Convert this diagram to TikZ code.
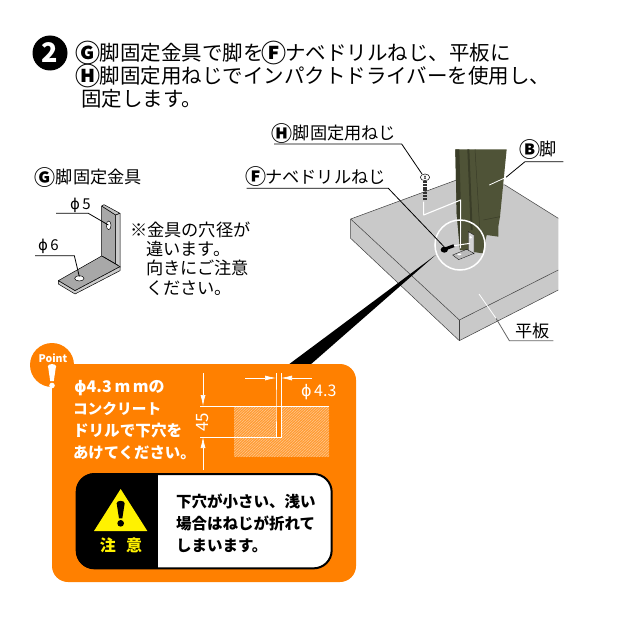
\documentclass[tikz,border=0pt]{standalone}
\usepackage{fontspec}
\setmainfont{Noto Sans CJK JP}
\newfontfamily\dv{DejaVu Sans}
\usetikzlibrary{arrows.meta}
\definecolor{orng}{HTML}{FF8000}
\definecolor{hatchbg}{HTML}{FF9A30}
\definecolor{slabc}{HTML}{C9C9C9}
\definecolor{legc}{HTML}{4F5337}
\definecolor{legd}{HTML}{3A3D28}
\definecolor{brk}{HTML}{A8A8A8}
\newcommand{\fs}[1]{\fontsize{#1}{#1}\selectfont}
\newcommand{\cir}[1]{\hspace{-0.1em}\smash{\raisebox{-0.09em}{\bfseries\scalebox{1.22}{#1}}}\hspace{-0.06em}}
\tikzset{
 txt/.style={anchor=west,inner sep=0pt,outer sep=0pt},
 head/.style={txt,font=\fs{20.5}},
 lab/.style={txt,font=\fs{17.2}},
 note/.style={txt,font=\fs{17.2}},
 small/.style={txt,font=\fs{15}},
 pt/.style={txt,text=white,font=\bfseries\fs{15}},
 warn/.style={txt,font=\bfseries\fs{15.5}},
 leader/.style={draw=black,line width=0.8pt},
 dim/.style={draw=white,line width=0.7pt},
 dimarrow/.style={draw=white,line width=0.7pt,-{Latex[length=11pt,width=5pt,fill=white]}},
 slabedge/.style={draw=black!75,line width=0.5pt,line join=round},
}
\begin{document}
\begin{tikzpicture}[x=1pt,y=-1pt]
\fill[white] (0,0) rectangle (618,618);
\useasboundingbox (0,0) rectangle (618,618);

% step number
\node[circle,fill=black,minimum size=35pt,inner sep=0pt,text=white,font=\bfseries\fs{27}] (num) at (50,53) {2};
\node[head] (h1) at (78,53) {\cir{Ⓖ}脚固定金具で脚を\cir{Ⓕ}ナベドリルねじ、平板に};
\node[head] (h2) at (78,76) {\cir{Ⓗ}脚固定用ねじでインパクトドライバーを使用し、};
\node[head] (h3) at (81,99) {固定します。};

% left bracket
\node[lab] (g) at (36,177) {\cir{Ⓖ}\hspace{0.1em}脚固定金具};
\begin{scope}[shift={(20,160)},scale=1/3]
 \fill[brk,draw=black,line width=0.5pt,line join=round] (245,138) -- (287,165) -- (287,312) -- (245,288) -- cycle;
 \fill[brk!70,draw=black,line width=0.5pt,line join=round] (245,138) -- (252,134) -- (300,160) -- (287,165) -- cycle;
 \fill[brk!60,draw=black,line width=0.5pt,line join=round] (287,165) -- (300,160) -- (300,322) -- (287,312) -- cycle;
 \fill[brk,draw=black,line width=0.5pt,line join=round] (115,362) -- (245,288) -- (300,320) -- (165,392) -- cycle;
 \fill[brk!60,draw=black,line width=0.5pt,line join=round] (115,362) -- (165,392) -- (300,320) -- (300,332) -- (165,402) -- (115,372) -- cycle;
 \draw[black,line width=0.3pt] (250,290) -- (295,316);
 \fill[white,draw=black,line width=0.5pt] (266,196) ellipse (7 and 13);
 \fill[white,draw=black,line width=0.5pt] (178,355) ellipse (14 and 8);
 \coordinate (p5a) at (108,160); \coordinate (p5b) at (205,160); \coordinate (p5c) at (265,195);
 \coordinate (p6a) at (45,287); \coordinate (p6b) at (163,287); \coordinate (p6c) at (178,350);
\end{scope}
\draw[leader] (p5a) -- (p5b) -- (p5c);
\draw[leader] (p6a) -- (p6b) -- (p6c);
\node[small] (d5) at (70,205) {{\dv ϕ}\,5};
\node[small] (d6) at (38,246) {{\dv ϕ}\,6};
\node[note] (n1) at (130,230) {※金具の穴径が};
\node[note] (n2) at (146,249) {違います。};
\node[note] (n3) at (146,268) {向きにご注意};
\node[note] (n4) at (146,288) {ください。};

% slab, leg
\begin{scope}[shift={(250,120)},scale=1/3]
 \fill[slabc] (302,297) -- (628,600) -- (628,662) -- (302,355) -- cycle;
 \fill[slabc] (628,600) -- (925,450) -- (925,510) -- (628,662) -- cycle;
 \fill[slabc] (302,297) -- (625,178) -- (765,195) -- (925,295) -- (925,450) -- (628,600) -- cycle;
 \draw[slabedge] (925,295) -- (765,195) -- (625,178) -- (302,297) -- (628,600) -- (925,450);
 \draw[slabedge] (302,297) -- (302,355) -- (628,662) -- (925,510);
 \draw[slabedge] (628,600) -- (628,662);
 % leg
 \fill[legc] (616,88) -- (770,88) -- (750,290) -- (745,320) -- (745,350) -- (710,345) -- (698,400) -- (630,390) -- (620,280) -- (618,180) -- cycle;
 \fill[legd] (616,88) -- (628,88) -- (636,380) -- (630,390) -- (620,280) -- (618,180) -- cycle;
 \fill[legd] (652,88) -- (658,88) -- (668,330) -- (662,330) -- cycle;
 \draw[legd,line width=0.5pt] (675,88) -- (690,340);
 \draw[legd,line width=0.5pt] (700,300) -- (750,290);
 % bracket detail
 \fill[brk!50,draw=black,line width=0.3pt] (655,335) -- (672,345) -- (672,402) -- (655,392) -- cycle;
 \fill[brk!80,draw=black,line width=0.3pt] (608,405) -- (650,388) -- (672,400) -- (626,419) -- cycle;
 \fill[white] (662,352) circle (4);
 \fill[white] (628,403) ellipse (6 and 3);
 % callout circle
 \draw[white,line width=1.5pt] (630,375) circle (75);
 % screw F
 \draw[black,line width=3pt] (585,387) -- (612,377);
 \fill[black] (583,389) ellipse (11 and 9);
 \draw[white,line width=1pt] (612,377) -- (660,370);
 % screw H
 \fill[white,draw=black,line width=0.5pt] (525,172) ellipse (14 and 10);
 \draw[black,line width=0.4pt] (522,167) -- (528,177) (528,167) -- (522,177);
 \draw[black!80,line width=4.5pt,dash pattern=on 2pt off 0.8pt] (525,183) -- (525,240);
 \draw[white,line width=1.1pt,line join=round] (521,245) -- (521,285) -- (632,240) -- (632,385);
 % leaders
 \coordinate (hA) at (72,72); \coordinate (hB) at (455,72); \coordinate (hC) at (516,162);
 \coordinate (fA) at (-10,205); \coordinate (fB) at (415,205); \coordinate (fC) at (582,380);
 \coordinate (bA) at (940,125); \coordinate (bB) at (825,125); \coordinate (bC) at (768,172); \coordinate (bD) at (718,195);
 \coordinate (sA) at (910,662); \coordinate (sB) at (778,662); \coordinate (sC) at (738,595); \coordinate (sD) at (687,522);
 % wedge
 \coordinate (wA) at (557,405);
\end{scope}
\draw[leader] (hA) -- (hB) -- (hC);
\draw[leader] (fA) -- (fB) -- (fC);
\draw[leader] (bA) -- (bB) -- (bC);
\draw[white,line width=0.8pt] (bC) -- (bD);
\draw[draw=black!60,line width=0.8pt] (sA) -- (sB) -- (sC);
\draw[white,line width=0.8pt] (sC) -- (sD);
\node[lab] (lh) at (273,133) {\cir{Ⓗ}\hspace{0.1em}脚固定用ねじ};
\node[lab] (lf) at (247,177) {\cir{Ⓕ}ナベドリルねじ};
\node[lab] (lb) at (521,149) {\cir{Ⓑ}脚};
\node[lab] (ls) at (515,331) {平板};

% black wedge
\coordinate (w1) at (288,365);
\coordinate (w2) at (310,365);
\fill[black] (wA) -- (w2) -- (w1) -- cycle;

% orange panel
\fill[orng,rounded corners=16pt] (52,364) rectangle (356,582);
\fill[orng] (52,365) circle (22);
\node[inner sep=0pt,text=white,font=\bfseries\fs{10.5}] (point) at (53,358) {Point};
\coordinate (ex) at (52,368);
\fill[white] (ex) ++(-4,-2) -- ++(8,0) -- ++(-2.2,15) -- ++(-3.6,0) -- cycle;
\fill[white] (52,385.5) circle (2.8);
\fill[white] (52,366.5) ellipse (4.2 and 2.5);

\node[pt,font=\bfseries\fs{16}] (t1) at (74,388) {{\dv ϕ}4.3\,m\,mの};
\node[pt,font=\bfseries\fs{14.7}] (t2) at (73,409) {コンクリート};
\node[pt,font=\bfseries\fs{15.6}] (t3) at (73,431) {ドリルで下穴を};
\node[pt,font=\bfseries\fs{15.4}] (t4) at (73,453) {あけてください。};

% hatch block
\begin{scope}
 \clip (234,406) rectangle (329,457);
 \fill[hatchbg] (234,406) rectangle (329,457);
 \foreach \k in {0,2.8,...,150} {
  \draw[white!60!orng,line width=0.45pt] (234+\k-55,457) -- (234+\k,406-0);
 }
\end{scope}
\fill[orng] (276,406) rectangle (281,437);
\coordinate (tl) at (200,406); \coordinate (tr) at (329,406);
\coordinate (ml) at (200,437); \coordinate (mr) at (276,437);
\draw[dim] (tl) -- (tr);
\draw[dim] (ml) -- (mr) -- (276,406) -- (276,373);
\draw[dim] (mr) -- (281,437) -- (281,373);
\coordinate (v1) at (203,373); \coordinate (v2) at (203,406);
\coordinate (v3) at (203,470); \coordinate (v4) at (203,437);
\draw[dimarrow] (v1) -- (v2);
\draw[dimarrow] (v3) -- (v4);
\coordinate (ha) at (245,378); \coordinate (hb) at (276,378);
\coordinate (hc) at (312,378); \coordinate (hd) at (281,378);
\draw[dimarrow] (ha) -- (hb);
\draw[dimarrow] (hc) -- (hd);
\node[fill=orng,inner sep=1pt,text=white,font=\fs{17},rotate=90] (d45) at (203,422) {45};
\node[small,text=white,font=\fs{16}] (d43) at (301,392) {{\dv ϕ}\,4.3};

% warning box
\begin{scope}[shift={(50,465)},scale=1/3]
 \fill[white,draw=black,line width=2pt,rounded corners=18pt] (80,27) rectangle (845,310);
 \begin{scope}
  \clip[rounded corners=18pt] (78,25) rectangle (846,312);
  \fill[black] (78,25) rectangle (325,312);
 \end{scope}
 \fill[yellow] (212,72) -- (292,198) -- (132,198) -- cycle;
 \fill[black] (200,115) .. controls (200,105) and (224,105) .. (224,115) -- (217,160) -- (207,160) -- cycle;
 \fill[black] (212,175) circle (10);
 \coordinate (cA) at (213,242);
\end{scope}
\node[inner sep=0pt,text=yellow,font=\bfseries\fs{16}] (cau) at (cA) {注\hspace{0.65em}意};
\node[warn] (w1t) at (176,501) {下穴が小さい、浅い};
\node[warn] (w2t) at (176,523) {場合はねじが折れて};
\node[warn] (w3t) at (176,546) {しまいます。};
\end{tikzpicture}
\end{document}
